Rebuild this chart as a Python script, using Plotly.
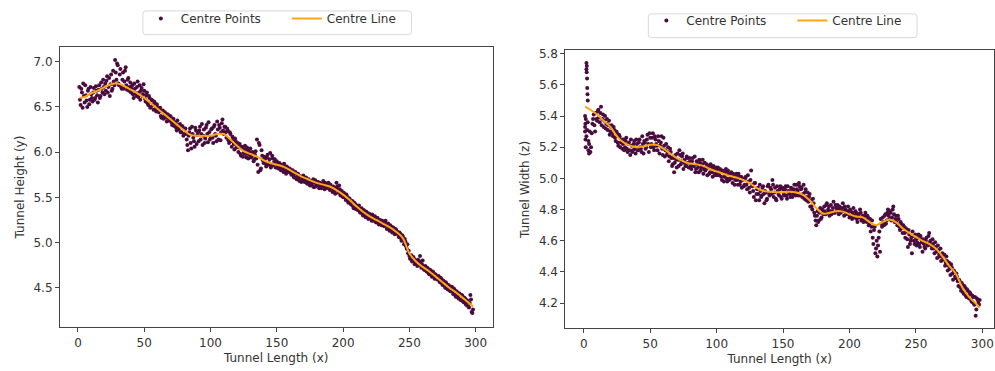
import plotly.graph_objects as go

# ---------------- data ----------------
# Left panel: Tunnel Height (y) vs Tunnel Length (x), points at x = 1, 2, ...
L_Y = [
    6.72, 6.52, 6.66, 6.76, 6.55, 6.63, 6.50, 6.70, 6.58, 6.64,
    6.56, 6.71, 6.60, 6.68, 6.55, 6.74, 6.62, 6.70, 6.80, 6.64,
    6.68, 6.84, 6.72, 6.62, 6.86, 6.70, 6.78, 7.02, 6.80, 6.96,
    6.74, 6.92, 6.70, 6.88, 6.78, 6.94, 6.69, 6.82, 6.72, 6.66,
    6.74, 6.60, 6.70, 6.62, 6.78, 6.66, 6.58, 6.71, 6.64, 6.68,
    6.56, 6.66, 6.52, 6.60, 6.50, 6.57, 6.47, 6.54, 6.45, 6.50,
    6.44, 6.49, 6.38, 6.46, 6.40, 6.43, 6.34, 6.41, 6.36, 6.39,
    6.30, 6.37, 6.32, 6.27, 6.35, 6.25, 6.31, 6.22, 6.28, 6.20,
    6.26, 6.14, 6.02, 6.22, 6.10, 6.28, 6.16, 6.06, 6.24, 6.19,
    6.12, 6.28, 6.20, 6.08, 6.25, 6.15, 6.30, 6.11, 6.22, 6.17,
    6.26, 6.10, 6.30, 6.18, 6.34, 6.14, 6.27, 6.22, 6.36, 6.20,
    6.28, 6.16, 6.24, 6.10, 6.20, 6.06, 6.14, 6.03, 6.12, 6.08,
    6.00, 6.09, 5.96, 6.05, 5.99, 6.07, 5.94, 6.02, 5.97, 6.04,
    5.95, 5.99, 5.92, 6.01, 6.14, 5.78, 6.08, 5.82, 5.96, 5.88,
    5.92, 5.84, 5.97, 5.88, 5.99, 5.85, 5.93, 5.89, 5.83, 5.90,
    5.82, 5.88, 5.80, 5.86, 5.78, 5.84, 5.76, 5.83, 5.79, 5.81,
    5.75, 5.80, 5.72, 5.78, 5.70, 5.76, 5.68, 5.73, 5.69, 5.74,
    5.67, 5.72, 5.65, 5.70, 5.63, 5.68, 5.66, 5.61, 5.69, 5.64,
    5.67, 5.60, 5.65, 5.62, 5.68, 5.59, 5.64, 5.61, 5.66, 5.58,
    5.62, 5.56, 5.60, 5.54, 5.66, 5.58, 5.63, 5.52, 5.57, 5.50,
    5.54, 5.47, 5.51, 5.44, 5.48, 5.42, 5.46, 5.38, 5.43, 5.40,
    5.36, 5.41, 5.33, 5.38, 5.30, 5.35, 5.28, 5.33, 5.26, 5.31,
    5.27, 5.31, 5.24, 5.29, 5.22, 5.27, 5.20, 5.25, 5.19, 5.23,
    5.18, 5.24, 5.15, 5.21, 5.13, 5.18, 5.11, 5.16, 5.09, 5.14,
    5.12, 5.06, 5.10, 5.02, 5.07, 4.98, 5.01, 4.93, 4.88, 4.85,
    4.82, 4.79, 4.84, 4.76, 4.80, 4.74, 4.78, 4.85, 4.72, 4.80,
    4.70, 4.74, 4.68, 4.71, 4.65, 4.69, 4.62, 4.67, 4.60, 4.64,
    4.59, 4.63, 4.56, 4.60, 4.53, 4.57, 4.50, 4.54, 4.48, 4.52,
    4.46, 4.51, 4.43, 4.48, 4.40, 4.45, 4.38, 4.43, 4.36, 4.41,
    4.34, 4.38, 4.31, 4.35, 4.28, 4.42, 4.23, 4.26,
]
# second sweep of left-panel points at x = 1.5, 2.5, ...
L_Y2 = [
    6.58, 6.70, 6.49, 6.62, 6.74, 6.57, 6.68, 6.53, 6.72, 6.60,
    6.66, 6.58, 6.73, 6.63, 6.69, 6.60, 6.77, 6.66, 6.72, 6.76,
    6.79, 6.66, 6.82, 6.75, 6.68, 6.90, 6.74, 6.88, 6.98, 6.76,
    6.86, 6.72, 6.80, 6.70, 6.90, 6.74, 6.80, 6.68, 6.77, 6.70,
    6.64, 6.76, 6.65, 6.72, 6.61, 6.74, 6.68, 6.62, 6.75, 6.59,
    6.63, 6.54, 6.62, 6.49, 6.58, 6.52, 6.56, 6.48, 6.53, 6.46,
    6.47, 6.40, 6.45, 6.37, 6.44, 6.38, 6.42, 6.35, 6.40, 6.33,
    6.35, 6.29, 6.33, 6.24, 6.30, 6.28, 6.22, 6.29, 6.18, 6.25,
    6.20, 6.08, 6.18, 6.26, 6.04, 6.20, 6.12, 6.27, 6.09, 6.22,
    6.24, 6.14, 6.31, 6.18, 6.10, 6.27, 6.20, 6.33, 6.14, 6.25,
    6.16, 6.28, 6.20, 6.12, 6.25, 6.30, 6.13, 6.32, 6.24, 6.28,
    6.22, 6.26, 6.13, 6.22, 6.12, 6.17, 6.09, 6.15, 6.05, 6.10,
    6.05, 5.98, 6.06, 5.95, 6.03, 5.98, 6.05, 5.93, 6.00, 5.94,
    6.00, 5.90, 5.97, 5.93, 5.86, 6.10, 5.80, 6.02, 5.91, 5.95,
    5.87, 5.94, 5.86, 5.92, 5.83, 5.96, 5.86, 5.92, 5.88, 5.85,
    5.87, 5.83, 5.85, 5.81, 5.87, 5.80, 5.84, 5.78, 5.82, 5.77,
    5.78, 5.74, 5.77, 5.72, 5.75, 5.71, 5.73, 5.67, 5.72, 5.70,
    5.70, 5.66, 5.69, 5.65, 5.67, 5.63, 5.70, 5.66, 5.62, 5.67,
    5.63, 5.66, 5.60, 5.65, 5.62, 5.66, 5.60, 5.63, 5.61, 5.64,
    5.59, 5.62, 5.57, 5.60, 5.62, 5.55, 5.59, 5.56, 5.53, 5.55,
    5.50, 5.53, 5.46, 5.49, 5.44, 5.45, 5.40, 5.44, 5.37, 5.41,
    5.39, 5.34, 5.37, 5.32, 5.36, 5.31, 5.34, 5.29, 5.32, 5.28,
    5.24, 5.28, 5.26, 5.23, 5.27, 5.23, 5.24, 5.21, 5.24, 5.20,
    5.22, 5.19, 5.20, 5.16, 5.19, 5.14, 5.17, 5.12, 5.15, 5.10,
    5.09, 5.11, 5.05, 5.08, 5.02, 5.04, 4.96, 4.98, 4.91, 4.82,
    4.86, 4.80, 4.82, 4.78, 4.77, 4.81, 4.75, 4.79, 4.76, 4.73,
    4.73, 4.69, 4.72, 4.66, 4.70, 4.64, 4.68, 4.62, 4.65, 4.61,
    4.62, 4.58, 4.61, 4.55, 4.58, 4.52, 4.56, 4.49, 4.53, 4.47,
    4.50, 4.46, 4.49, 4.42, 4.46, 4.40, 4.44, 4.37, 4.42, 4.35,
    4.39, 4.32, 4.36, 4.29, 4.33, 4.37, 4.22,
]
L_X = list(range(1, len(L_Y) + 1))
L_X2 = [i + 0.5 for i in range(1, len(L_Y2) + 1)]

L_LINE_X = [1, 5, 10, 15, 20, 25, 30, 35, 40, 45, 50, 55, 60, 65, 70, 75, 80, 85, 90, 95,
            100, 105, 110, 115, 120, 125, 130, 135, 140, 145, 150, 155, 160, 165, 170, 175,
            180, 185, 190, 195, 200, 205, 210, 215, 220, 225, 230, 235, 240, 245, 250, 255,
            260, 265, 270, 275, 280, 285, 290, 295, 298]
L_LINE_Y = [6.60, 6.61, 6.65, 6.68, 6.72, 6.75, 6.76, 6.73, 6.69, 6.65, 6.60, 6.54, 6.48,
            6.42, 6.36, 6.30, 6.24, 6.19, 6.18, 6.18, 6.18, 6.20, 6.20, 6.14, 6.07, 6.01,
            5.98, 5.95, 5.91, 5.88, 5.86, 5.84, 5.80, 5.76, 5.72, 5.69, 5.66, 5.64, 5.62,
            5.58, 5.53, 5.47, 5.40, 5.34, 5.29, 5.25, 5.21, 5.17, 5.12, 5.05, 4.88, 4.79,
            4.73, 4.68, 4.62, 4.56, 4.50, 4.45, 4.39, 4.33, 4.29]

# Right panel: Tunnel Width (z) vs Tunnel Length (x)
R_Y = [
    5.33, 5.27, 5.36, 5.22, 5.17, 5.29, 5.38, 5.34, 5.42, 5.37,
    5.44, 5.36, 5.46, 5.38, 5.33, 5.40, 5.35, 5.31, 5.37, 5.30,
    5.34, 5.27, 5.31, 5.24, 5.29, 5.21, 5.27, 5.23, 5.19, 5.25,
    5.20, 5.26, 5.17, 5.23, 5.15, 5.21, 5.18, 5.24, 5.16, 5.22,
    5.18, 5.25, 5.19, 5.27, 5.16, 5.23, 5.20, 5.28, 5.17, 5.26,
    5.22, 5.29, 5.18, 5.25, 5.21, 5.27, 5.16, 5.23, 5.19, 5.26,
    5.14, 5.22, 5.17, 5.11, 5.19, 5.13, 5.09, 5.04, 5.15, 5.07,
    5.12, 5.18, 5.09, 5.14, 5.06, 5.12, 5.08, 5.13, 5.07, 5.11,
    5.06, 5.13, 5.08, 5.04, 5.11, 5.07, 5.12, 5.05, 5.09, 5.03,
    5.10, 5.06, 5.02, 5.08, 5.04, 5.07, 5.01, 5.06, 5.03, 5.05,
    5.07, 5.02, 5.05, 4.99, 5.04, 5.01, 5.06, 4.98, 5.03, 5.00,
    5.04, 4.97, 5.02, 4.99, 5.03, 4.96, 5.01, 4.98, 4.94, 5.00,
    4.96, 5.01, 4.93, 4.98, 4.91, 5.05, 4.95, 4.88, 4.97, 4.90,
    4.94, 4.86, 4.92, 4.89, 4.95, 4.84, 4.91, 4.87, 4.96, 4.89,
    4.93, 4.99, 4.88, 4.94, 4.86, 4.92, 4.89, 4.95, 4.87, 4.93,
    4.89, 4.95, 4.87, 4.92, 4.90, 4.94, 4.88, 4.93, 4.91, 4.96,
    4.92, 4.97, 4.89, 4.94, 4.90, 4.87, 4.93, 4.88, 4.85, 4.90,
    4.86, 4.80, 4.84, 4.76, 4.70, 4.79, 4.73, 4.81, 4.75, 4.78,
    4.82, 4.77, 4.84, 4.80, 4.76, 4.83, 4.79, 4.85, 4.78, 4.81,
    4.83, 4.77, 4.81, 4.79, 4.84, 4.76, 4.80, 4.78, 4.82, 4.75,
    4.79, 4.74, 4.81, 4.76, 4.78, 4.72, 4.77, 4.80, 4.73, 4.76,
    4.74, 4.78, 4.72, 4.75, 4.71, 4.66, 4.73, 4.58, 4.69, 4.55,
    4.50, 4.62, 4.53, 4.71, 4.75, 4.70, 4.77, 4.73, 4.80, 4.74,
    4.78, 4.75, 4.82, 4.72, 4.76, 4.70, 4.74, 4.67, 4.71, 4.65,
    4.69, 4.62, 4.66, 4.56, 4.64, 4.60, 4.52, 4.63, 4.58, 4.61,
    4.59, 4.64, 4.56, 4.61, 4.53, 4.58, 4.55, 4.62, 4.57, 4.65,
    4.60, 4.55, 4.58, 4.52, 4.56, 4.49, 4.54, 4.50, 4.47, 4.52,
    4.48, 4.44, 4.50, 4.41, 4.46, 4.38, 4.43, 4.35, 4.40, 4.36,
    4.37, 4.31, 4.34, 4.28, 4.32, 4.26, 4.30, 4.24, 4.28, 4.23,
    4.26, 4.21, 4.24, 4.19, 4.12, 4.23, 4.20, 4.22,
]
R_Y2 = [
    5.38, 5.31, 5.24, 5.30, 5.20, 5.35, 5.41, 5.30, 5.38, 5.43,
    5.39, 5.42, 5.34, 5.41, 5.37, 5.32, 5.38, 5.34, 5.28, 5.33,
    5.29, 5.33, 5.26, 5.30, 5.23, 5.28, 5.20, 5.25, 5.22, 5.18,
    5.24, 5.19, 5.22, 5.18, 5.25, 5.17, 5.22, 5.19, 5.25, 5.18,
    5.23, 5.20, 5.17, 5.22, 5.24, 5.19, 5.25, 5.22, 5.29, 5.20,
    5.26, 5.20, 5.27, 5.22, 5.18, 5.24, 5.21, 5.27, 5.15, 5.21,
    5.18, 5.15, 5.20, 5.14, 5.17, 5.08, 5.13, 5.10, 5.12, 5.16,
    5.08, 5.15, 5.11, 5.16, 5.10, 5.08, 5.14, 5.10, 5.13, 5.08,
    5.11, 5.08, 5.14, 5.06, 5.09, 5.04, 5.10, 5.07, 5.12, 5.06,
    5.05, 5.09, 5.07, 5.03, 5.09, 5.04, 5.08, 5.02, 5.07, 5.02,
    5.03, 5.06, 5.01, 5.05, 4.98, 5.04, 5.00, 5.05, 4.99, 5.03,
    5.00, 5.03, 4.96, 5.02, 4.99, 5.03, 4.96, 5.01, 4.99, 4.95,
    5.00, 4.96, 5.02, 4.94, 4.99, 4.96, 4.92, 4.97, 4.86, 4.93,
    4.90, 4.96, 4.88, 4.94, 4.90, 4.92, 4.86, 4.95, 4.90, 4.94,
    4.90, 4.96, 4.91, 4.87, 4.95, 4.90, 4.93, 4.88, 4.94, 4.90,
    4.93, 4.89, 4.95, 4.91, 4.88, 4.93, 4.90, 4.96, 4.89, 4.93,
    4.89, 4.95, 4.93, 4.88, 4.96, 4.91, 4.86, 4.91, 4.88, 4.82,
    4.82, 4.87, 4.78, 4.73, 4.76, 4.72, 4.78, 4.74, 4.80, 4.77,
    4.79, 4.83, 4.78, 4.82, 4.79, 4.77, 4.81, 4.78, 4.83, 4.79,
    4.80, 4.82, 4.78, 4.81, 4.79, 4.82, 4.77, 4.79, 4.77, 4.80,
    4.76, 4.78, 4.75, 4.79, 4.74, 4.77, 4.75, 4.78, 4.75, 4.72,
    4.76, 4.73, 4.76, 4.70, 4.74, 4.69, 4.62, 4.67, 4.52, 4.60,
    4.57, 4.66, 4.74, 4.69, 4.72, 4.76, 4.71, 4.78, 4.76, 4.79,
    4.73, 4.80, 4.77, 4.74, 4.72, 4.76, 4.69, 4.72, 4.68, 4.70,
    4.65, 4.68, 4.61, 4.67, 4.58, 4.62, 4.66, 4.60, 4.64, 4.57,
    4.62, 4.58, 4.63, 4.59, 4.61, 4.56, 4.60, 4.58, 4.63, 4.59,
    4.57, 4.61, 4.55, 4.59, 4.53, 4.57, 4.51, 4.55, 4.50, 4.48,
    4.51, 4.46, 4.47, 4.44, 4.42, 4.45, 4.39, 4.41, 4.37, 4.39,
    4.34, 4.35, 4.30, 4.33, 4.27, 4.31, 4.25, 4.29, 4.25, 4.27,
    4.22, 4.25, 4.20, 4.24, 4.16, 4.22, 4.19,
]
R_X = list(range(1, len(R_Y) + 1))
R_X2 = [i + 0.5 for i in range(1, len(R_Y2) + 1)]

# scattered start-of-tunnel points (right panel)
R_START_X = [2.0, 2.3, 2.0, 2.2, 2.5, 2.6, 2.8, 3.0, 1.0, 1.2, 1.0, 1.3, 1.5, 3.5, 4.0]
R_START_Y = [5.74, 5.72, 5.70, 5.68, 5.64, 5.58, 5.54, 5.50, 5.40, 5.35, 5.30, 5.25, 5.20, 5.18, 5.16]

R_LINE_X = L_LINE_X
R_LINE_Y = [5.46, 5.44, 5.41, 5.37, 5.33, 5.27, 5.23, 5.21, 5.20, 5.205, 5.215, 5.215, 5.19,
            5.16, 5.13, 5.11, 5.095, 5.09, 5.08, 5.06, 5.045, 5.03, 5.015, 5.005, 4.99, 4.97,
            4.94, 4.92, 4.915, 4.912, 4.912, 4.914, 4.91, 4.895, 4.86, 4.81, 4.775, 4.78,
            4.79, 4.787, 4.77, 4.756, 4.75, 4.72, 4.70, 4.72, 4.737, 4.72, 4.68, 4.65, 4.625,
            4.60, 4.58, 4.55, 4.50, 4.44, 4.39, 4.30, 4.24, 4.20, 4.17]

L_YTICKS = [4.5, 5.0, 5.5, 6.0, 6.5, 7.0]
R_YTICKS = [4.2, 4.4, 4.6, 4.8, 5.0, 5.2, 5.4, 5.6, 5.8]
X_TICKS = [0, 50, 100, 150, 200, 250, 300]

# ---------------- style ----------------
PT_COLOR = "#4a0c3e"
LN_COLOR = "#ffa514"
FONT = "DejaVu Sans"
TXT = "#333333"
W, H = 995, 371

fig = go.Figure()

fig.add_trace(go.Scatter(x=L_X + L_X2, y=L_Y + L_Y2, mode="markers", name="Centre Points",
                         marker=dict(color=PT_COLOR, size=4), xaxis="x", yaxis="y",
                         legend="legend"))
fig.add_trace(go.Scatter(x=L_LINE_X, y=L_LINE_Y, mode="lines", name="Centre Line",
                         line=dict(color=LN_COLOR, width=2, shape="spline"),
                         xaxis="x", yaxis="y", legend="legend"))
fig.add_trace(go.Scatter(x=R_START_X + R_X + R_X2, y=R_START_Y + R_Y + R_Y2, mode="markers",
                         name="Centre Points", marker=dict(color=PT_COLOR, size=4),
                         xaxis="x2", yaxis="y2", legend="legend2"))
fig.add_trace(go.Scatter(x=R_LINE_X, y=R_LINE_Y, mode="lines", name="Centre Line",
                         line=dict(color=LN_COLOR, width=2, shape="spline"),
                         xaxis="x2", yaxis="y2", legend="legend2"))

axis_common = dict(showgrid=False, zeroline=False, showline=True, mirror=True,
                   linecolor="#444444", linewidth=1, ticks="outside", ticklen=4,
                   tickcolor="#444444", tickfont=dict(family=FONT, size=12, color=TXT),
                   title_font=dict(family=FONT, size=12, color=TXT))

L_DOM_X = [60 / W, 493 / W]
R_DOM_X = [566 / W, 1.0]
L_DOM_Y = [1 - 327 / H, 1 - 43 / H]
R_DOM_Y = [1 - 328 / H, 1 - 47 / H]

legend_common = dict(orientation="h", xanchor="left", yanchor="top",
                     borderwidth=0, bgcolor="rgba(0,0,0,0)",
                     font=dict(family=FONT, size=12, color=TXT),
                     itemwidth=30, entrywidth=101, entrywidthmode="pixels")


def rounded_box(x0, y0, x1, y1, r=3):
    # pixel box -> paper-coordinate path with rounded corners
    def px(x):
        return x / W

    def py(y):
        return 1 - y / H
    return (f"M {px(x0 + r)},{py(y0)} L {px(x1 - r)},{py(y0)} "
            f"Q {px(x1)},{py(y0)} {px(x1)},{py(y0 + r)} L {px(x1)},{py(y1 - r)} "
            f"Q {px(x1)},{py(y1)} {px(x1 - r)},{py(y1)} L {px(x0 + r)},{py(y1)} "
            f"Q {px(x0)},{py(y1)} {px(x0)},{py(y1 - r)} L {px(x0)},{py(y0 + r)} "
            f"Q {px(x0)},{py(y0)} {px(x0 + r)},{py(y0)} Z")


fig.update_layout(
    width=W, height=H,
    margin=dict(l=0, r=0, t=0, b=0),
    paper_bgcolor="white", plot_bgcolor="white",
    font=dict(family=FONT, size=12, color=TXT),
    xaxis=dict(domain=L_DOM_X, range=[-13.6, 312.7], tickvals=X_TICKS,
               title=dict(text="Tunnel Length (x)", standoff=4), anchor="y", **axis_common),
    yaxis=dict(domain=L_DOM_Y, range=[4.06, 7.168], tickvals=L_YTICKS,
               tickformat=".1f", title=dict(text="Tunnel Height (y)", standoff=6),
               anchor="x", **axis_common),
    xaxis2=dict(domain=R_DOM_X, range=[-13.8, 308.8], tickvals=X_TICKS,
                title=dict(text="Tunnel Length (x)", standoff=4), anchor="y2", **axis_common),
    yaxis2=dict(domain=R_DOM_Y, range=[4.038, 5.82], tickvals=R_YTICKS,
                tickformat=".1f", title=dict(text="Tunnel Width (z)", standoff=6),
                anchor="x2", **axis_common),
    legend=dict(x=141 / W, y=1.0, **legend_common),
    legend2=dict(x=647 / W, y=1.0 - 2 / H, **legend_common),
    shapes=[
        dict(type="path", xref="paper", yref="paper", path=rounded_box(143, 7, 412, 31),
             line=dict(color="#d9d9d9", width=1), fillcolor="rgba(0,0,0,0)", layer="below"),
        dict(type="path", xref="paper", yref="paper", path=rounded_box(649, 10, 918, 34),
             line=dict(color="#d9d9d9", width=1), fillcolor="rgba(0,0,0,0)", layer="below"),
    ],
)

fig.write_html("out.html")
